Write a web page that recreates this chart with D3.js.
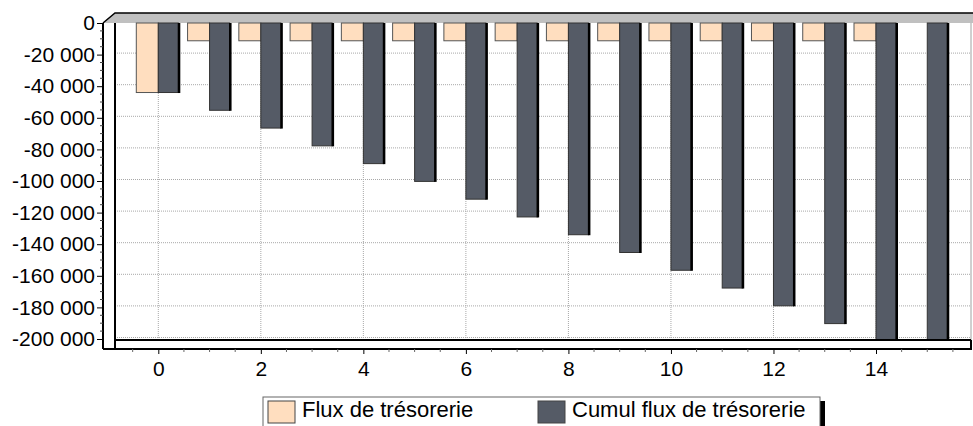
<!DOCTYPE html>
<html>
<head>
<meta charset="utf-8">
<script src="https://cdn.jsdelivr.net/npm/d3@7"></script>
<style>
  body { margin: 0; background: #fff; }
  text { font-family: Arial, "Liberation Sans", sans-serif; fill: #000; }
</style>
</head>
<body>
<div class="svg"></div>
<script>
// data
const categories = [0, 1, 2, 3, 4, 5, 6, 7, 8, 9, 10, 11, 12, 13, 14, 15];
const flux = [-44000, -11250, -11250, -11250, -11250, -11250, -11250, -11250,
              -11250, -11250, -11250, -11250, -11250, -11250, -11250, 0];
const cumul = [-44000, -55250, -66500, -77750, -89000, -100250, -111500, -122750,
               -134000, -145250, -156500, -167750, -179000, -190250, -201500, -201500];
const yTicks = [0, -20000, -40000, -60000, -80000, -100000, -120000, -140000,
                -160000, -180000, -200000];
const xTicks = [0, 2, 4, 6, 8, 10, 12, 14];
const seriesNames = ["Flux de trésorerie", "Cumul flux de trésorerie"];
const seriesColors = ["#FFDEBF", "#555B66"];

const width = 973, height = 426;
const frontLeft = 103, backLeft = 115, right = 971;
const topBack = 13, topFront = 23, floorTop = 340, floorBottom = 349;

const svg = d3.select('.svg').append('svg')
    .attr('width', width).attr('height', height);
svg.append('rect').attr('width', width).attr('height', height).attr('fill', '#fff');

const x = d3.scaleLinear().domain([0, 14]).range([158.3, 876]);
const y = d3.scaleLinear().domain([0, -200000]).range([topFront, 339]);
const barW = 22;

const fmt = d3.formatLocale({decimal: ",", thousands: " ", grouping: [3],
    currency: ["", ""], minus: "-"}).format(",d");

// top band
svg.append('path')
    .attr('d', `M${frontLeft},${topFront}L${backLeft},${topBack}L${width},${topBack}L${width},${topFront}Z`)
    .attr('fill', '#C0C0C0');
svg.append('path')
    .attr('d', `M${frontLeft},${topFront}L${backLeft},${topBack}L${width},${topBack}`)
    .attr('fill', 'none').attr('stroke', '#000').attr('stroke-width', 1.5);

// grid
const grid = svg.append('g').attr('stroke', '#A8A8A8').attr('stroke-dasharray', '1,1');
grid.selectAll('.h').data(yTicks.slice(1)).enter().append('line')
    .attr('x1', backLeft).attr('x2', right)
    .attr('y1', d => y(d) - 1.5).attr('y2', d => y(d) - 1.5);
grid.selectAll('.v').data(xTicks).enter().append('line')
    .attr('x1', d => x(d)).attr('x2', d => x(d))
    .attr('y1', topFront).attr('y2', floorTop);

svg.append('line').attr('x1', right).attr('x2', right)
    .attr('y1', topFront).attr('y2', floorTop).attr('stroke', '#A0A0A0');

// bars
svg.append('clipPath').attr('id', 'clip').append('rect')
    .attr('x', frontLeft).attr('y', 0).attr('width', width).attr('height', floorTop);
const bars = svg.append('g').attr('clip-path', 'url(#clip)');

bars.selectAll('.flux').data(flux).enter().append('rect')
    .attr('x', (d, i) => x(categories[i]) - barW)
    .attr('y', y(0))
    .attr('width', barW)
    .attr('height', d => y(d) - y(0))
    .attr('fill', seriesColors[0])
    .attr('stroke', '#555').attr('stroke-width', 1);

bars.selectAll('.cumul').data(cumul).enter().append('rect')
    .attr('x', (d, i) => x(categories[i]))
    .attr('y', y(0))
    .attr('width', barW - 2)
    .attr('height', d => y(d) - y(0))
    .attr('fill', seriesColors[1])
    .attr('stroke', '#333').attr('stroke-width', 1);

bars.selectAll('.side').data(cumul).enter().append('rect')
    .attr('x', (d, i) => x(categories[i]) + barW - 2.5)
    .attr('y', y(0))
    .attr('width', 2.5)
    .attr('height', d => y(d) - y(0) + 0.5)
    .attr('fill', '#000');

// walls and floor
const frame = svg.append('g').attr('stroke', '#000').attr('stroke-width', 2).attr('fill', 'none');
frame.append('line').attr('x1', frontLeft).attr('x2', frontLeft).attr('y1', topFront).attr('y2', floorBottom);
frame.append('line').attr('x1', backLeft).attr('x2', backLeft).attr('y1', topFront).attr('y2', floorBottom);
frame.append('line').attr('x1', backLeft).attr('x2', right).attr('y1', floorTop).attr('y2', floorTop);
frame.append('line').attr('x1', frontLeft).attr('x2', right + 1).attr('y1', floorBottom).attr('y2', floorBottom);
frame.append('line').attr('x1', right).attr('x2', right).attr('y1', floorTop).attr('y2', floorBottom);

// y axis
const axisY = d3.axisLeft(y).tickValues(yTicks).tickFormat(fmt).tickSize(6).tickSizeOuter(0).tickPadding(2);
const gy = svg.append('g').attr('transform', `translate(${frontLeft},0)`).call(axisY);
gy.select('.domain').remove();
gy.selectAll('text').style('font-size', '21px').attr('font-family', null);

const minorY = [];
yTicks.slice(1).forEach(t => [0.25, 0.5, 0.75].forEach(f => minorY.push(t + 20000 * f)));
svg.append('g').selectAll('line').data(minorY).enter().append('line')
    .attr('x1', frontLeft - 3).attr('x2', frontLeft)
    .attr('y1', d => y(d)).attr('y2', d => y(d))
    .attr('stroke', '#444');

// x axis
const axisX = d3.axisBottom(x).tickValues(xTicks).tickFormat(d3.format('d')).tickSize(5).tickSizeOuter(0).tickPadding(7);
const gx = svg.append('g').attr('transform', `translate(0,${floorBottom})`).call(axisX);
gx.select('.domain').remove();
gx.selectAll('text').style('font-size', '21px').attr('font-family', null);

const minorX = [];
[-0.5, 0.5, 1, 1.5, 2.5, 3, 3.5, 4.5, 5, 5.5, 6.5, 7, 7.5, 8.5, 9, 9.5, 10.5, 11, 11.5,
 12.5, 13, 13.5, 14.5, 15, 15.5].forEach(v => minorX.push(v));
svg.append('g').selectAll('line').data(minorX).enter().append('line')
    .attr('x1', d => x(d)).attr('x2', d => x(d))
    .attr('y1', floorBottom).attr('y2', floorBottom + 3)
    .attr('stroke', '#666');

// legend
const lg = svg.append('g');
lg.append('rect').attr('x', 268).attr('y', 401).attr('width', 557).attr('height', 40).attr('fill', '#000');
lg.append('rect').attr('x', 263).attr('y', 397).attr('width', 557).attr('height', 40)
    .attr('fill', '#fff').attr('stroke', '#666');
const items = lg.selectAll('.item').data(seriesNames).enter().append('g')
    .attr('transform', (d, i) => `translate(${i === 0 ? 268 : 538},401)`);
items.append('rect').attr('width', 27).attr('height', 22)
    .attr('fill', (d, i) => seriesColors[i]).attr('stroke', '#444');
items.append('text').attr('x', 34).attr('y', 16).style('font-size', '22px').text(d => d);
</script>
</body>
</html>
